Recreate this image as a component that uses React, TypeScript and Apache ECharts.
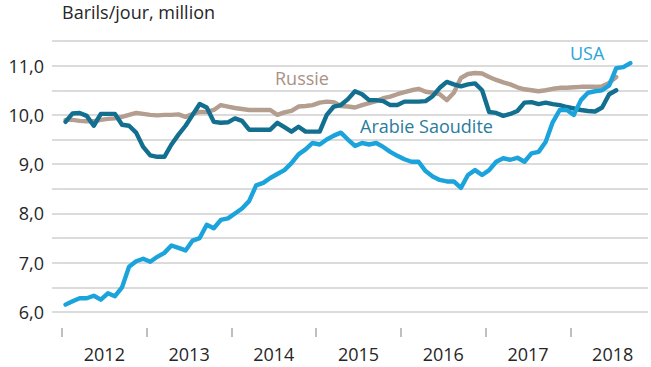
import React, { useEffect, useRef } from "react";
import * as echarts from "echarts";

const startYear = 2012;
const years = [2012, 2013, 2014, 2015, 2016, 2017, 2018];
const yLabelValues = [6, 7, 8, 9, 10, 11];

// Monthly production, million barrels/day, from Jan 2012
const usa = [
  6.15, 6.22, 6.28, 6.28, 6.33, 6.25, 6.38, 6.32, 6.5, 6.92,
  7.03, 7.08, 7.02, 7.12, 7.2, 7.35, 7.3, 7.25, 7.45, 7.5,
  7.77, 7.7, 7.87, 7.9, 8.0, 8.1, 8.25, 8.57, 8.62, 8.72,
  8.8, 8.88, 9.02, 9.2, 9.3, 9.43, 9.4, 9.5, 9.58, 9.64,
  9.5, 9.37, 9.43, 9.4, 9.43, 9.35, 9.25, 9.17, 9.1, 9.05,
  9.05, 8.86, 8.75, 8.68, 8.65, 8.65, 8.52, 8.78, 8.88, 8.78,
  8.88, 9.05, 9.12, 9.09, 9.13, 9.05, 9.22, 9.25, 9.45, 9.85,
  10.1, 10.1, 10.0, 10.3, 10.45, 10.48, 10.5, 10.6, 10.95, 10.97, 11.05,
];

const russia = [
  9.9, 9.9, 9.88, 9.87, 9.87, 9.9, 9.92, 9.93, 9.96, 10.0,
  10.04, 10.02, 10.0, 9.99, 10.0, 10.0, 10.01, 9.96, 10.02, 10.06,
  10.06, 10.1, 10.2, 10.17, 10.14, 10.12, 10.1, 10.1, 10.1, 10.1,
  10.0, 10.05, 10.08, 10.17, 10.18, 10.2, 10.25, 10.27, 10.26, 10.18,
  10.17, 10.15, 10.2, 10.24, 10.28, 10.34, 10.37, 10.42, 10.46, 10.5,
  10.53, 10.47, 10.45, 10.42, 10.3, 10.45, 10.75, 10.83, 10.85, 10.84,
  10.77, 10.71, 10.66, 10.62, 10.56, 10.52, 10.5, 10.48, 10.5, 10.53,
  10.55, 10.55, 10.56, 10.57, 10.57, 10.57, 10.58, 10.65, 10.77,
];

const saudi = [
  9.86, 10.03, 10.04, 9.98, 9.78, 10.02, 10.02, 10.02, 9.8, 9.78,
  9.64, 9.35, 9.18, 9.15, 9.15, 9.4, 9.6, 9.78, 10.0, 10.22,
  10.15, 9.86, 9.84, 9.85, 9.93, 9.88, 9.7, 9.7, 9.7, 9.7,
  9.84, 9.75, 9.66, 9.76, 9.66, 9.66, 9.66, 10.0, 10.17, 10.2,
  10.32, 10.48, 10.42, 10.3, 10.3, 10.28, 10.2, 10.2, 10.27, 10.27,
  10.27, 10.28, 10.38, 10.55, 10.67, 10.62, 10.58, 10.62, 10.64, 10.5,
  10.06, 10.04, 9.98, 10.02, 10.08, 10.25, 10.26, 10.22, 10.25, 10.22,
  10.2, 10.16, 10.13, 10.1, 10.08, 10.07, 10.15, 10.42, 10.5,
];

const toPoints = (vals: number[]) =>
  vals.map((v, i) => [startYear + (i + 0.5) / 12, v]);

const FONT = "'Open Sans', 'Liberation Sans', sans-serif";

export default function App() {
  const ref = useRef<HTMLDivElement>(null);

  useEffect(() => {
    if (!ref.current) return;
    const chart = echarts.init(ref.current, null, { renderer: "svg" });
    const lineSeries = (name: string, data: number[], color: string) => ({
      name,
      type: "line",
      data: toPoints(data),
      showSymbol: false,
      symbol: "none",
      lineStyle: { color, width: 4.4, join: "round", cap: "round" },
      itemStyle: { color },
    });
    chart.setOption({
      animation: false,
      backgroundColor: "#ffffff",
      grid: { left: 62, right: 3, top: 41, bottom: 55, containLabel: false },
      xAxis: {
        type: "value",
        min: startYear,
        max: 2018 + 11 / 12,
        offset: 16,
        axisLine: { show: false },
        splitLine: { show: false },
        axisTick: {
          show: true,
          length: 9,
          customValues: years,
          lineStyle: { color: "#BFBFBF", width: 2 },
        },
        axisLabel: {
          customValues: years.map((y) => y + 0.5),
          formatter: (v: number) => String(Math.floor(v)),
          margin: 17,
          color: "#262626",
          fontSize: 18,
          fontFamily: FONT,
        },
      },
      yAxis: {
        type: "value",
        min: 6,
        max: 11.5,
        interval: 0.5,
        axisLine: { show: false },
        axisTick: {
          show: true,
          length: 10,
          lineStyle: { color: "#D0D0D0", width: 1.5 },
        },
        splitLine: { show: true, lineStyle: { color: "#CFCFCF", width: 1.5 } },
        axisLabel: {
          customValues: yLabelValues,
          formatter: (v: number) => v.toFixed(1).replace(".", ","),
          margin: 18,
          color: "#262626",
          fontSize: 18,
          fontFamily: FONT,
        },
      },
      graphic: [
        {
          type: "text",
          x: 62,
          y: 12,
          style: {
            text: "Barils/jour, million",
            fill: "#262626",
            font: `18px ${FONT}`,
            verticalAlign: "middle",
          },
        },
        {
          type: "text",
          x: 275,
          y: 78,
          style: {
            text: "Russie",
            fill: "#A99285",
            font: `18px ${FONT}`,
            verticalAlign: "middle",
          },
        },
        {
          type: "text",
          x: 360,
          y: 126,
          style: {
            text: "Arabie Saoudite",
            fill: "#2A7C9C",
            font: `18px ${FONT}`,
            verticalAlign: "middle",
          },
        },
        {
          type: "text",
          x: 570,
          y: 53,
          style: {
            text: "USA",
            fill: "#29A5DA",
            font: `18px ${FONT}`,
            verticalAlign: "middle",
          },
        },
      ],
      series: [
        lineSeries("Russie", russia, "#B39E90"),
        lineSeries("Arabie Saoudite", saudi, "#136F8F"),
        lineSeries("USA", usa, "#1BA3DC"),
      ],
    });
    return () => chart.dispose();
  }, []);

  return (
    <div
      ref={ref}
      style={{ position: "absolute", left: 0, top: 0, width: 651, height: 367 }}
    />
  );
}
